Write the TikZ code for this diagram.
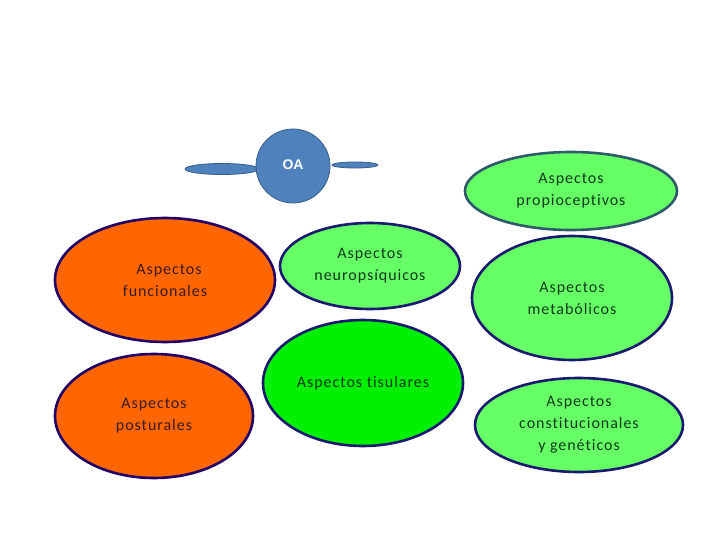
\documentclass[tikz,border=0pt]{standalone}
\usepackage{fontspec}
\setmainfont{Carlito}[LetterSpace=6, Ligatures={NoCommon}]
\newfontfamily\oafont{Liberation Sans}
\usetikzlibrary{shapes.geometric}
\definecolor{orangefill}{HTML}{FF6600}
\definecolor{orangeline}{HTML}{230066}
\definecolor{lightgreen}{HTML}{66FF66}
\definecolor{brightgreen}{HTML}{00F000}
\definecolor{greenline}{HTML}{1A1A70}
\definecolor{tealline}{HTML}{2F5A6A}
\definecolor{oablue}{HTML}{4F81BD}
\definecolor{oaline}{HTML}{385D8A}
\definecolor{orangetext}{HTML}{3A1A20}
\definecolor{greentext}{HTML}{0D3A1A}
\tikzset{
  bubble/.style={ellipse, inner sep=0pt, line width=2.6pt, align=center,
    font=\fontsize{16}{22}\selectfont},
  orangebub/.style={bubble, draw=orangeline, fill=orangefill, text=orangetext},
  greenbub/.style={bubble, draw=greenline, fill=lightgreen, text=greentext},
  wing/.style={ellipse, inner sep=0pt, draw=oaline, fill=oablue, line width=0.8pt}
}
\begin{document}
\begin{tikzpicture}[x=1pt,y=-1pt]
\useasboundingbox[fill=white] (0,0) rectangle (720,540);
% OA
\node[wing, minimum width=74pt, minimum height=11pt] (lw) at (222,169) {};
\node[wing, minimum width=46pt, minimum height=6pt] (rw) at (355,165) {};
\node[circle, inner sep=0pt, minimum size=74pt, draw=oaline, fill=oablue, line width=0.8pt,
  text=white, font=\oafont\fontsize{14}{16}\selectfont\bfseries] (oa) at (293,166) {\raisebox{3pt}{OA}};
% left column
\node[orangebub, minimum width=220pt, minimum height=124pt] (fun) at (165,280) {\hspace*{8pt}Aspectos\\funcionales};
\node[orangebub, minimum width=198pt, minimum height=124pt] (pos) at (154,416) {Aspectos\\posturales};
% middle column
\node[greenbub, minimum width=180pt, minimum height=86pt] (neu) at (370,266) {Aspectos\\neuropsíquicos};
\node[greenbub, fill=brightgreen, minimum width=200pt, minimum height=126pt] (tis) at (363,383) {Aspectos tisulares};
% right column
\node[greenbub, draw=tealline, minimum width=212pt, minimum height=78pt] (pro) at (571,191) {Aspectos\\propioceptivos};
\node[greenbub, minimum width=200pt, minimum height=124pt] (met) at (572,298) {Aspectos\\metabólicos};
\node[greenbub, minimum width=208pt, minimum height=94pt] (con) at (579,425) {Aspectos\\constitucionales\\y genéticos};
\end{tikzpicture}
\end{document}
